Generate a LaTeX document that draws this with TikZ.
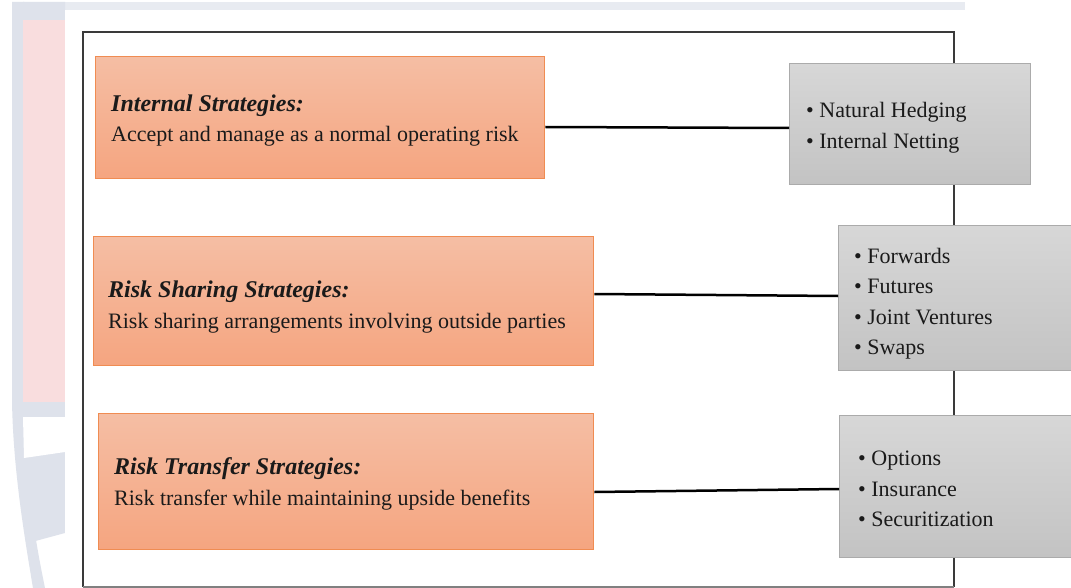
\documentclass[tikz,border=0pt]{standalone}
\usepackage{fontspec}
\setmainfont{Liberation Serif}
\definecolor{bgblue}{HTML}{DEE2EB}
\definecolor{bgpink}{HTML}{F9DDDE}
\definecolor{orangetop}{HTML}{F5BEA4}
\definecolor{orangebot}{HTML}{F5A580}
\definecolor{orangeedge}{HTML}{F08C52}
\definecolor{graytop}{HTML}{D7D7D7}
\definecolor{graybot}{HTML}{C3C3C3}
\definecolor{grayedge}{HTML}{ABABAB}
\definecolor{framecol}{HTML}{3A3A3A}
\definecolor{txt}{HTML}{1A1A1A}
\begin{document}
\begin{tikzpicture}[x=1pt,y=-1pt,
  obox/.style={draw=orangeedge, line width=1.3pt, top color=orangetop, bottom color=orangebot, inner sep=0pt, anchor=north west},
  gbox/.style={draw=grayedge, line width=1pt, top color=graytop, bottom color=graybot, inner sep=0pt, anchor=north west},
  ttl/.style={anchor=base west, inner sep=0pt, text=txt, font=\fontsize{24}{24}\selectfont\bfseries\itshape},
  bdy/.style={anchor=base west, inner sep=0pt, text=txt, font=\fontsize{22}{22}\selectfont},
  itm/.style={anchor=base west, inner sep=0pt, text=txt, font=\fontsize{22}{22}\selectfont},
  link/.style={draw=black, line width=2.5pt}
]
\useasboundingbox (0,0) rectangle (1071,588);
% background page / watermark
\fill[white] (0,0) rectangle (1071,588);
\fill[bgblue!70] (12,2) rectangle (965,11);
\fill[bgblue] (12,2) -- (24,2) -- (24,400) .. controls (25,480) and (35,540) .. (45,588)
  -- (33,588) .. controls (25,540) and (13,470) .. (12,400) -- cycle;
\fill[bgblue] (23,2) -- (65,2) -- (65,533) -- (28,543) -- (23,420) -- cycle;
\fill[bgpink] (23,20) rectangle (65,402);
\fill[white] (23,417) -- (65,417) -- (65,452) -- (24,458) -- cycle;
\fill[white] (65,10) rectangle (1071,588);
% frame
\draw[framecol, line width=2pt] (83,587) -- (83,32) -- (954,32) -- (954,587);
\draw[gray, line width=1.5pt] (83,587) -- (954,587);
% orange boxes
\node[obox, minimum width=449, minimum height=122] (o1) at (95,56) {};
\node[obox, minimum width=500, minimum height=129] (o2) at (93,236) {};
\node[obox, minimum width=495, minimum height=136] (o3) at (98,413) {};
% gray boxes
\node[gbox, minimum width=241, minimum height=121] (g1) at (789,63) {};
\node[gbox, minimum width=240, minimum height=145] (g2) at (838,225) {};
\node[gbox, minimum width=240, minimum height=142] (g3) at (839,415) {};
% connectors
\draw[link] (o1.east |- 0,127) -- (g1.west |- 0,128);
\draw[link] (o2.east |- 0,294) -- (g2.west |- 0,296);
\draw[link] (o3.east |- 0,492) -- (g3.west |- 0,489);
% texts
\node[ttl] (t1) at (111,112) {Internal Strategies:};
\node[bdy] (b1) at (111,142) {Accept and manage as a normal operating risk};
\node[ttl] (t2) at (108,298) {Risk Sharing Strategies:};
\node[bdy] (b2) at (108,328) {Risk sharing arrangements involving outside parties};
\node[ttl] (t3) at (114,474) {Risk Transfer Strategies:};
\node[bdy] (b3) at (114,505) {Risk transfer while maintaining upside benefits};
\node[itm] (i11) at (806,118) {\textbullet\ Natural Hedging};
\node[itm] (i12) at (806,149) {\textbullet\ Internal Netting};
\node[itm] (i21) at (854,263) {\textbullet\ Forwards};
\node[itm] (i22) at (854,293) {\textbullet\ Futures};
\node[itm] (i23) at (854,324) {\textbullet\ Joint Ventures};
\node[itm] (i24) at (854,354) {\textbullet\ Swaps};
\node[itm] (i31) at (858,465) {\textbullet\ Options};
\node[itm] (i32) at (858,496) {\textbullet\ Insurance};
\node[itm] (i33) at (858,526) {\textbullet\ Securitization};
\end{tikzpicture}
\end{document}
